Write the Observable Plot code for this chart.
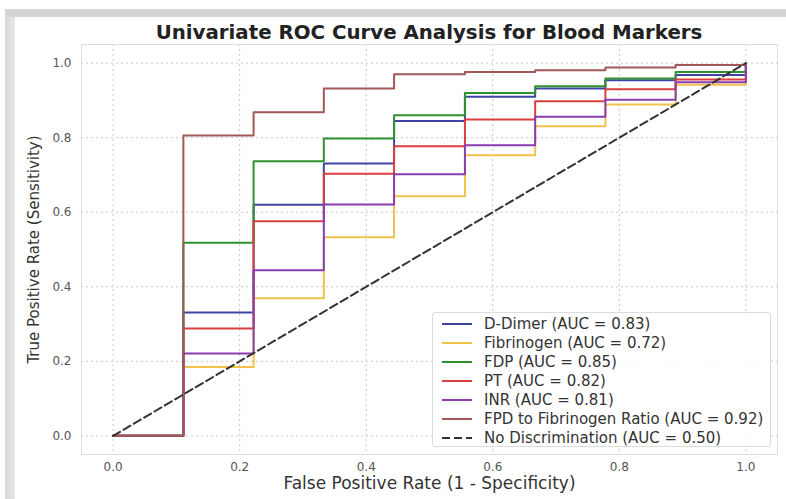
<!DOCTYPE html>
<html>
<head>
<meta charset="utf-8">
<script src="https://cdn.jsdelivr.net/npm/d3@7"></script>
<script src="https://cdn.jsdelivr.net/npm/@observablehq/plot@0.6"></script>
<style>
  html, body { margin: 0; padding: 0; background: #fff; }
  #wrap { position: relative; width: 786px; height: 499px; overflow: hidden; font-family: "DejaVu Sans", sans-serif; }
  #topbar { position: absolute; left: 5px; top: 9px; width: 781px; height: 8px; background: #d5d5d5; }
  #leftbar { position: absolute; left: 5px; top: 17px; width: 10px; height: 482px; background: linear-gradient(to right, #d8d8d8, #e6e6e6); }
  #title { position: absolute; left: 81px; width: 696px; top: 21px; text-align: center; font-weight: bold; font-size: 19.8px; color: #222; }
  #chart { position: absolute; left: 0; top: 0; }
  #legend { position: absolute; left: 432px; top: 312px; width: 339px; height: 135px; border: 1px solid #dcdcdc; border-radius: 3px; background: rgba(255,255,255,0.85); box-sizing: border-box; padding-top: 2px; }
  .row { display: flex; align-items: center; height: 18.9px; font-size: 15px; color: #333; white-space: nowrap; }
  .row svg { margin-left: 9px; margin-right: 12px; }
</style>
</head>
<body>
<div id="wrap">
  <div id="topbar"></div>
  <div id="leftbar"></div>
  <div id="chart"></div>
  <div id="title">Univariate ROC Curve Analysis for Blood Markers</div>
  <div id="legend"></div>
</div>
<script>
// ---- data ----
const fpr = [0, 0.111, 0.222, 0.333, 0.444, 0.556, 0.667, 0.778, 0.889, 1.0];
const markers = ["D-Dimer", "Fibrinogen", "FDP", "PT", "INR", "FPD to Fibrinogen Ratio"];
const auc = [0.83, 0.72, 0.85, 0.82, 0.81, 0.92];
const colors = ["#3f45a6", "#f0c24a", "#2f922f", "#d9403f", "#8a3db0", "#a05858"];
const tprDDimer     = [0, 0.331, 0.620, 0.731, 0.845, 0.910, 0.932, 0.954, 0.968, 1.0];
const tprFibrinogen = [0, 0.185, 0.369, 0.533, 0.643, 0.753, 0.831, 0.889, 0.942, 1.0];
const tprFDP        = [0, 0.518, 0.737, 0.798, 0.860, 0.920, 0.938, 0.959, 0.976, 1.0];
const tprPT         = [0, 0.288, 0.576, 0.703, 0.777, 0.849, 0.898, 0.930, 0.956, 1.0];
const tprINR        = [0, 0.221, 0.444, 0.621, 0.702, 0.780, 0.856, 0.902, 0.949, 1.0];
const tprRatio      = [0, 0.806, 0.868, 0.932, 0.970, 0.976, 0.981, 0.988, 0.995, 1.0];
const diagX = [0, 1];
const diagY = [0, 1];
const diagLabel = "No Discrimination (AUC = 0.50)";
const ticks = [0, 0.2, 0.4, 0.6, 0.8, 1.0];
const xLabel = "False Positive Rate (1 - Specificity)";
const yLabel = "True Positive Rate (Sensitivity)";

// ---- build table ----
const tprs = [tprDDimer, tprFibrinogen, tprFDP, tprPT, tprINR, tprRatio];
const rows = [];
markers.forEach((m, i) => fpr.forEach((f, j) => rows.push({marker: m, fpr: f, tpr: tprs[i][j]})));
const diag = diagX.map((x, i) => ({x, y: diagY[i]}));

const fmt = d3.format(".1f");
const chart = Plot.plot({
  width: 786, height: 499,
  marginLeft: 81, marginRight: 9, marginTop: 44, marginBottom: 45,
  style: {fontFamily: "DejaVu Sans", background: "transparent", overflow: "visible"},
  x: {domain: [-0.05, 1.05]},
  y: {domain: [-0.05, 1.05]},
  color: {domain: markers, range: colors},
  marks: [
    Plot.gridX(ticks, {stroke: "#c8c8c8", strokeOpacity: 1, strokeDasharray: "2,3"}),
    Plot.gridY(ticks, {stroke: "#c8c8c8", strokeOpacity: 1, strokeDasharray: "2,3"}),
    Plot.frame({stroke: "#dcdcdc"}),
    Plot.axisX(ticks, {tickSize: 0, tickPadding: 8, tickFormat: fmt, fontSize: 12, fill: "#555", label: null}),
    Plot.axisY(ticks, {tickSize: 0, tickPadding: 10, tickFormat: fmt, fontSize: 12, fill: "#555", label: null}),
    Plot.text([xLabel], {frameAnchor: "bottom", textAnchor: "middle", dy: 34, fontSize: 17, fill: "#333"}),
    Plot.text([yLabel], {frameAnchor: "left", textAnchor: "middle", dx: -47, rotate: -90, fontSize: 15, fill: "#333"}),
    ...markers.map(m => Plot.line(rows.filter(r => r.marker === m), {x: "fpr", y: "tpr", stroke: "marker", curve: "step-after", strokeWidth: 2})),
    Plot.line(diag, {x: "x", y: "y", stroke: "#333", strokeWidth: 2, strokeDasharray: "8,4"})
  ]
});
document.getElementById("chart").appendChild(chart);

// ---- legend ----
const legend = document.getElementById("legend");
const entries = markers.map((m, i) => ({label: `${m} (AUC = ${auc[i].toFixed(2)})`, color: colors[i], dash: null}));
entries.push({label: diagLabel, color: "#333", dash: "8,4"});
entries.forEach(e => {
  const row = document.createElement("div");
  row.className = "row";
  row.innerHTML = `<svg width="30" height="10"><line x1="0" x2="30" y1="5" y2="5" stroke="${e.color}" stroke-width="2" ${e.dash ? `stroke-dasharray="${e.dash}"` : ""}/></svg><span>${e.label}</span>`;
  legend.appendChild(row);
});
</script>
</body>
</html>
